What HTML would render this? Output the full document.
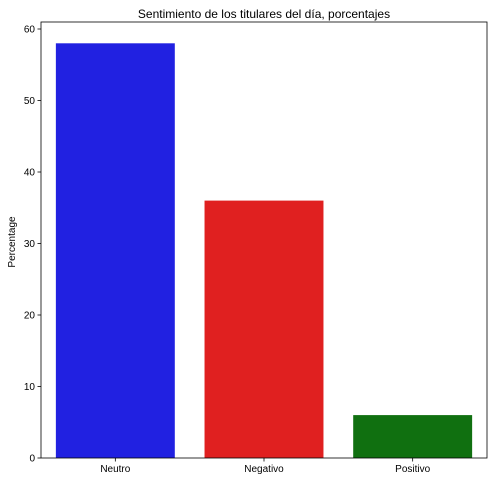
<!DOCTYPE html>
<html><head><meta charset="utf-8"><style>
body{margin:0;background:#fff;font-family:"Liberation Sans",sans-serif;}
svg text{font-family:"Liberation Sans",sans-serif;fill:#000;}
</style></head><body>
<svg id="chart" width="494" height="482">
<text x="264" y="18" font-size="12" text-anchor="middle">Sentimiento de los titulares del día, porcentajes</text>
<text transform="translate(15,242) rotate(-90)" font-size="10" text-anchor="middle">Percentage</text>
<g id="bars"></g><g id="yaxis"></g><g id="xaxis"></g>
<rect x="41" y="22" width="446" height="436" fill="none" stroke="#000" stroke-width="0.8"/>
</svg>
<script>
const categories=["Neutro","Negativo","Positivo"];
const values=[58,36,6];
const colors=["#2121e1","#e02020","#107010"];
const yTicks=[0,10,20,30,40,50,60];
const ns="http://www.w3.org/2000/svg";
const L=41,R=487,B=458,pxPer=7.15;
const y=v=>B-v*pxPer;
const band=(R-L)/categories.length, bw=band*0.8;
const xc=i=>L+band*(i+0.5);
const bars=document.getElementById('bars'),ya=document.getElementById('yaxis'),xa=document.getElementById('xaxis');
function mk(t,a,p){const e=document.createElementNS(ns,t);for(const k in a)e.setAttribute(k,a[k]);p.appendChild(e);return e;}
categories.forEach((c,i)=>{
 const r=mk('rect',{x:xc(i)-bw/2,y:y(values[i]),width:bw,height:B-y(values[i]),fill:colors[i]},bars);
 
 
 mk('line',{x1:xc(i),x2:xc(i),y1:B,y2:B+3.5,stroke:'#000','stroke-width':0.8},xa);
 const t=mk('text',{x:xc(i),y:B+14,'font-size':10,'text-anchor':'middle'},xa);t.textContent=c;
 
 
});
yTicks.forEach(v=>{
 mk('line',{x1:L-3.5,x2:L,y1:y(v),y2:y(v),stroke:'#000','stroke-width':0.8},ya);
 const t=mk('text',{x:L-6,y:y(v)+3.5,'font-size':10,'text-anchor':'end'},ya);t.textContent=v;
 
 
});
</script>
</body></html>
